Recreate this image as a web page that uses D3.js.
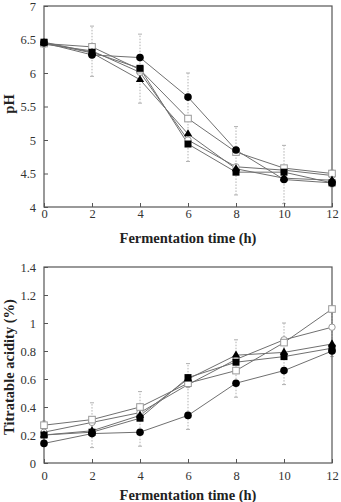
<!DOCTYPE html>
<html><head><meta charset="utf-8">
<script src="https://cdn.jsdelivr.net/npm/d3@7"></script>
<style>
body{margin:0;background:#fff;}
svg{display:block;font-family:"Liberation Serif","Times New Roman",serif;}
svg text{font-family:"Liberation Serif","Times New Roman",serif;}
</style></head>
<body>
<script>
const times = [0, 2, 4, 6, 8, 10, 12];
const xTicks = [0, 2, 4, 6, 8, 10, 12];

// pH
const phCircleFilled = [6.45, 6.27, 6.23, 5.64, 4.85, 4.41, 4.36];
const phSquareOpen   = [6.44, 6.39, 6.05, 5.32, 4.82, 4.58, 4.50];
const phTriangle     = [6.45, 6.30, 5.90, 5.09, 4.57, 4.43, 4.40];
const phSquareFilled = [6.46, 6.31, 6.07, 4.94, 4.52, 4.52, 4.36];
const phCircleOpen   = [6.43, 6.33, 6.01, 5.00, 4.60, 4.55, 4.47];
const phErrLow  = [6.40, 5.95, 5.55, 4.68, 4.18, 4.05, 4.30];
const phErrHigh = [6.50, 6.70, 6.58, 6.00, 5.20, 4.92, 4.55];
const phTicks = [4, 4.5, 5, 5.5, 6, 6.5, 7];

// Titratable acidity
const taCircleFilled = [0.14, 0.21, 0.22, 0.34, 0.57, 0.66, 0.80];
const taSquareOpen   = [0.27, 0.31, 0.40, 0.57, 0.66, 0.86, 1.10];
const taTriangle     = [0.20, 0.23, 0.34, 0.60, 0.77, 0.79, 0.85];
const taSquareFilled = [0.20, 0.22, 0.32, 0.61, 0.72, 0.76, 0.82];
const taCircleOpen   = [0.22, 0.29, 0.36, 0.56, 0.74, 0.88, 0.97];
const taErrLow  = [0.12, 0.11, 0.12, 0.24, 0.47, 0.56, 0.76];
const taErrHigh = [0.30, 0.43, 0.51, 0.71, 0.88, 1.00, 1.12];
const taTicks = [0, 0.2, 0.4, 0.6, 0.8, 1, 1.2, 1.4];

const W = 341, H = 502;
const FONT = "'Liberation Serif','Times New Roman',serif";
const svg = d3.select("body").append("svg").attr("width", W).attr("height", H);

function drawPanel(cfg) {
  const x = d3.scaleLinear().domain([0, 12]).range([cfg.left, cfg.right]);
  const y = d3.scaleLinear().domain(cfg.domain).range([cfg.bottom, cfg.top]);
  const g = svg.append("g");

  // error bars
  const eb = g.append("g");
  times.forEach((t, i) => {
    eb.append("line").attr("x1", x(t)).attr("x2", x(t))
      .attr("y1", y(cfg.errLow[i])).attr("y2", y(cfg.errHigh[i]))
      .attr("stroke", "#b0b0b0").attr("stroke-width", 1).attr("stroke-dasharray", "1.5,1.5");
    [cfg.errLow[i], cfg.errHigh[i]].forEach(v => {
      eb.append("line").attr("x1", x(t) - 2).attr("x2", x(t) + 2)
        .attr("y1", y(v)).attr("y2", y(v)).attr("stroke", "#b0b0b0").attr("stroke-width", 1);
    });
  });

  // frame
  g.append("rect").attr("x", cfg.left).attr("y", cfg.top)
    .attr("width", cfg.right - cfg.left).attr("height", cfg.bottom - cfg.top)
    .attr("fill", "none").attr("stroke", "#555").attr("stroke-width", 1.2);

  // axes
  const xa = g.append("g").attr("transform", `translate(0,${cfg.bottom})`)
    .call(d3.axisBottom(x).tickValues(xTicks).tickSize(-4).tickPadding(cfg.xPad).tickFormat(d3.format("d")));
  const ya = g.append("g").attr("transform", `translate(${cfg.left},0)`)
    .call(d3.axisLeft(y).tickValues(cfg.ticks).tickSize(-4).tickPadding(8).tickFormat(d => String(d)));
  [xa, ya].forEach(a => {
    a.attr("font-family", FONT).attr("font-size", 12.5);
    a.select(".domain").remove();
    a.selectAll(".tick line").attr("stroke", "#555");
    a.selectAll(".tick text").attr("fill", "#333");
  });

  // lines
  const line = d3.line().x((d, i) => x(times[i])).y(d => y(d));
  cfg.series.forEach(s => {
    g.append("path").attr("d", line(s.values)).attr("fill", "none")
      .attr("stroke", "#707070").attr("stroke-width", 1);
  });

  // markers
  cfg.series.forEach(s => {
    const mg = g.append("g");
    s.values.forEach((v, i) => {
      const cx = x(times[i]), cy = y(v);
      if (s.key === "circleFilled") {
        mg.append("circle").attr("cx", cx).attr("cy", cy).attr("r", 3.8).attr("fill", "#000");
      } else if (s.key === "circleOpen") {
        mg.append("circle").attr("cx", cx).attr("cy", cy).attr("r", 3.2)
          .attr("fill", "#fff").attr("stroke", "#999").attr("stroke-width", 1);
      } else if (s.key === "squareFilled") {
        mg.append("rect").attr("x", cx - 3.5).attr("y", cy - 3.5).attr("width", 7).attr("height", 7).attr("fill", "#000");
      } else if (s.key === "squareOpen") {
        mg.append("rect").attr("x", cx - 3.3).attr("y", cy - 3.3).attr("width", 6.6).attr("height", 6.6)
          .attr("fill", "#fff").attr("stroke", "#999").attr("stroke-width", 1);
      } else {
        mg.append("path").attr("transform", `translate(${cx},${cy})`)
          .attr("d", d3.symbol(d3.symbolTriangle, 30)()).attr("fill", "#000");
      }
    });
  });

  // titles
  svg.append("text").attr("x", (cfg.left + cfg.right) / 2).attr("y", cfg.xTitleY)
    .attr("text-anchor", "middle").attr("font-weight", "bold").attr("font-size", 14.5)
    .attr("font-family", FONT).attr("fill", "#222").text("Fermentation time (h)");
  svg.append("text").attr("transform", `translate(${cfg.yTitleX},${cfg.yTitleCy}) rotate(-90)`)
    .attr("text-anchor", "middle").attr("font-weight", "bold").attr("font-size", 14.5)
    .attr("font-family", FONT).attr("fill", "#222").text(cfg.yTitle);
}

drawPanel({
  left: 44, right: 332, top: 6, bottom: 207, domain: [4, 7], ticks: phTicks,
  errLow: phErrLow, errHigh: phErrHigh, xPad: 2,
  series: [
    {key: "circleOpen", values: phCircleOpen},
    {key: "squareOpen", values: phSquareOpen},
    {key: "triangleFilled", values: phTriangle},
    {key: "squareFilled", values: phSquareFilled},
    {key: "circleFilled", values: phCircleFilled}
  ],
  xTitleY: 243, yTitle: "pH", yTitleX: 14, yTitleCy: 104
});

drawPanel({
  left: 44, right: 332, top: 267, bottom: 463, domain: [0, 1.4], ticks: taTicks,
  errLow: taErrLow, errHigh: taErrHigh, xPad: 8,
  series: [
    {key: "circleOpen", values: taCircleOpen},
    {key: "squareOpen", values: taSquareOpen},
    {key: "triangleFilled", values: taTriangle},
    {key: "squareFilled", values: taSquareFilled},
    {key: "circleFilled", values: taCircleFilled}
  ],
  xTitleY: 500, yTitle: "Titratable acidity (%)", yTitleX: 14, yTitleCy: 367
});
</script>
</body></html>
